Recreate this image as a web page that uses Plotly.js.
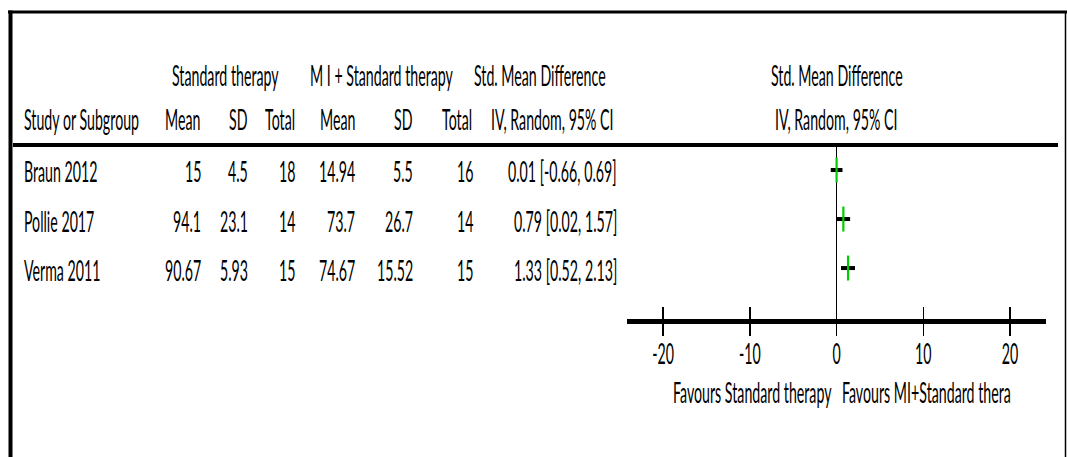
<!DOCTYPE html>
<html>
<head>
<meta charset="utf-8">
<script src="https://cdn.plot.ly/plotly-3.0.1.min.js"></script>
<style>
  html, body { margin: 0; padding: 0; background: #ffffff; overflow: hidden; }
  #wrap { width: 1067px; height: 457px; overflow: hidden; }
  #plot { width: 1067px; height: 228px; transform: scaleY(2.0044); transform-origin: 0 0; }
</style>
</head>
<body>
<div id="wrap"><div id="plot"></div></div>
<script>
// ---- data ----
const studies = ["Braun 2012", "Pollie 2017", "Verma 2011"];
const stdMean = ["15", "94.1", "90.67"];
const stdSD = ["4.5", "23.1", "5.93"];
const stdTotal = [18, 14, 15];
const miMean = ["14.94", "73.7", "74.67"];
const miSD = ["5.5", "26.7", "15.52"];
const miTotal = [16, 14, 15];
const smd = [0.01, 0.79, 1.33];
const ciLow = [-0.66, 0.02, 0.52];
const ciHigh = [0.69, 1.57, 2.13];
const xTicks = [-20, -10, 0, 10, 20];
const favoursLeft = "Favours Standard therapy";
const favoursRight = "Favours MI+Standard thera";

// ---- geometry helpers (reference pixel -> paper) ----
const W = 1067, HREF = 457;
const px = v => v / W;
const py = v => 1 - v / HREF;
const FONT = "Lato, 'Open Sans', sans-serif";
const fs = 14.2;
const rows = studies.map((_, i) => i + 1);

const fmt = v => v.toFixed(2);
const ciText = smd.map((v, i) => fmt(v) + " [" + fmt(ciLow[i]) + ", " + fmt(ciHigh[i]) + "]");

const annotations = [];
function addText(text, x, y, xanchor, xref, yref, extra) {
  annotations.push(Object.assign({
    text: text, x: x, y: y, xref: xref || "paper", yref: yref || "paper",
    xanchor: xanchor, yanchor: "middle", showarrow: false,
    font: { family: FONT, size: fs, color: "#000000" }
  }, extra || {}));
}

// header row 1
addText("Standard therapy", px(225), py(75), "center");
addText("M I + Standard therapy", px(382), py(75), "center");
addText("Std. Mean Difference", px(540), py(75), "center");
addText("Std. Mean Difference", 0, py(75), "center", "x");
// header row 2
addText("Study or Subgroup", px(22), py(119), "left");
addText("Mean", px(202), py(119), "right");
addText("SD", px(250), py(119), "right");
addText("Total", px(297), py(119), "right");
addText("Mean", px(357), py(119), "right");
addText("SD", px(415), py(119), "right");
addText("Total", px(474), py(119), "right");
addText("IV, Random, 95% CI", px(616), py(119), "right");
addText("IV, Random, 95% CI", 0, py(119), "center", "x");

// data rows
studies.forEach((s, i) => {
  const r = rows[i];
  addText(s, px(22), r, "left", "paper", "y", { yshift: -1 });
  addText(stdMean[i], px(203), r, "right", "paper", "y", { yshift: -1 });
  addText(stdSD[i], px(250), r, "right", "paper", "y", { yshift: -1 });
  addText(String(stdTotal[i]), px(297), r, "right", "paper", "y", { yshift: -1 });
  addText(miMean[i], px(357), r, "right", "paper", "y", { yshift: -1 });
  addText(miSD[i], px(415), r, "right", "paper", "y", { yshift: -1 });
  addText(String(miTotal[i]), px(475), r, "right", "paper", "y", { yshift: -1 });
  addText(ciText[i], px(619), r, "right", "paper", "y", { yshift: -1 });
});

// favours labels
addText(favoursLeft, 0, py(391), "right", "x", "paper", { xshift: -3 });
addText(favoursRight, 0, py(391), "left", "x", "paper", { xshift: 3 });

const shapes = [
  // frame
  { type: "line", xref: "paper", yref: "paper", x0: px(8), x1: 1, y0: py(12), y1: py(12), line: { color: "#000", width: 1.5 } },
  { type: "line", xref: "paper", yref: "paper", x0: px(10.5), x1: px(10.5), y0: py(10.5), y1: 0, line: { color: "#000", width: 4 } },
  { type: "line", xref: "paper", yref: "paper", x0: px(1065.5), x1: px(1065.5), y0: py(12), y1: 0, line: { color: "#000", width: 1.5 } },
  // header rule
  { type: "line", xref: "paper", yref: "paper", x0: px(13), x1: px(1058), y0: py(145), y1: py(145), line: { color: "#000", width: 2 } }
];

const trace = {
  type: "scatter", mode: "markers",
  x: smd, y: rows,
  xaxis: "x", yaxis: "y",
  marker: { symbol: "line-ns", size: 8.9, line: { color: "#00cc00", width: 2.2 }, color: "#00cc00" },
  error_x: {
    type: "data", symmetric: false,
    array: ciHigh.map((h, i) => h - smd[i]),
    arrayminus: ciLow.map((l, i) => smd[i] - l),
    color: "#000000", thickness: 2, width: 0
  },
  hoverinfo: "skip", showlegend: false
};

const xr = [-24.15, 24.15];
const xdom = [px(627), px(1046)];
const layout = {
  width: 1067, height: 228,
  margin: { l: 0, r: 0, t: 0, b: 0 },
  paper_bgcolor: "#ffffff", plot_bgcolor: "rgba(0,0,0,0)",
  showlegend: false,
  font: { family: FONT, size: fs, color: "#000" },
  xaxis: {
    domain: xdom, range: xr, anchor: "y",
    showgrid: false, zeroline: true, zerolinecolor: "#000", zerolinewidth: 1.5,
    showline: true, linecolor: "#000", linewidth: 2.5,
    tickmode: "array", tickvals: xTicks, ticktext: xTicks.map(String),
    ticks: "outside", ticklen: 6, tickwidth: 1.5, tickcolor: "#000",
    ticklabelstandoff: -3,
    tickfont: { family: FONT, size: fs, color: "#000" },
    fixedrange: true
  },
  xaxis2: {
    overlaying: "x", anchor: "y", side: "bottom", range: xr,
    showgrid: false, zeroline: false, showline: false,
    tickmode: "array", tickvals: xTicks, showticklabels: false,
    ticks: "inside", ticklen: 6, tickwidth: 1.5, tickcolor: "#000",
    fixedrange: true
  },
  yaxis: {
    domain: [py(319), py(147)], range: [4.04, 0.53],
    showgrid: false, zeroline: false, showline: false, showticklabels: false, ticks: "",
    fixedrange: true
  },
  annotations: annotations,
  shapes: shapes
};

const trace2 = { type: "scatter", mode: "markers", x: [], y: [], xaxis: "x2", yaxis: "y", showlegend: false, hoverinfo: "skip" };

Plotly.newPlot("plot", [trace, trace2], layout, { displayModeBar: false, staticPlot: true });
</script>
</body>
</html>
